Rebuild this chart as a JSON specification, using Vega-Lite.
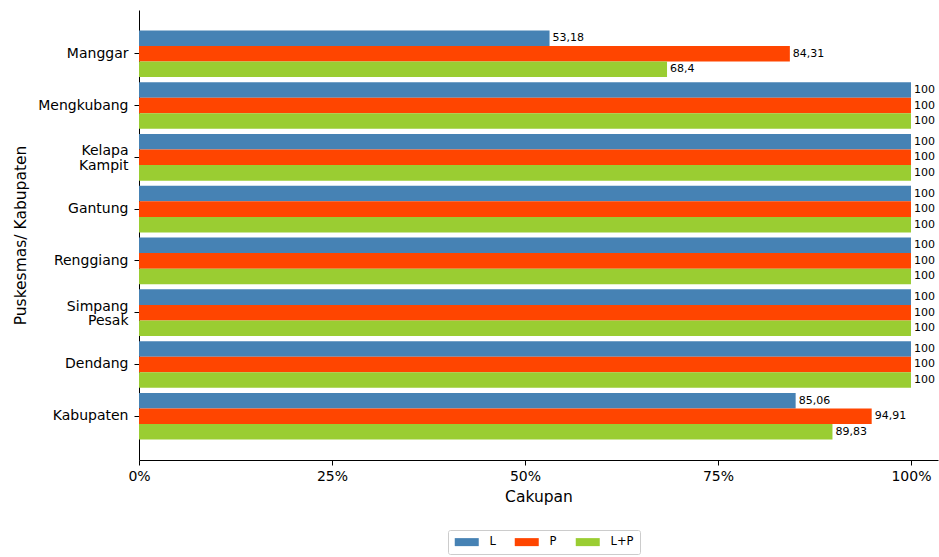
{
  "$schema": "https://vega.github.io/schema/vega-lite/v6.json",
  "width": 799,
  "height": 450,
  "autosize": {"type": "none"},
  "padding": {"left": 139, "top": 10, "right": 1, "bottom": 97},
  "background": "white",
  "data": {
    "values": [
      {"puskesmas": "Manggar", "seri": "L", "nilai": 53.18, "label": "53,18"},
      {"puskesmas": "Manggar", "seri": "P", "nilai": 84.31, "label": "84,31"},
      {"puskesmas": "Manggar", "seri": "L+P", "nilai": 68.4, "label": "68,4"},
      {"puskesmas": "Mengkubang", "seri": "L", "nilai": 100, "label": "100"},
      {"puskesmas": "Mengkubang", "seri": "P", "nilai": 100, "label": "100"},
      {"puskesmas": "Mengkubang", "seri": "L+P", "nilai": 100, "label": "100"},
      {"puskesmas": "Kelapa Kampit", "seri": "L", "nilai": 100, "label": "100"},
      {"puskesmas": "Kelapa Kampit", "seri": "P", "nilai": 100, "label": "100"},
      {"puskesmas": "Kelapa Kampit", "seri": "L+P", "nilai": 100, "label": "100"},
      {"puskesmas": "Gantung", "seri": "L", "nilai": 100, "label": "100"},
      {"puskesmas": "Gantung", "seri": "P", "nilai": 100, "label": "100"},
      {"puskesmas": "Gantung", "seri": "L+P", "nilai": 100, "label": "100"},
      {"puskesmas": "Renggiang", "seri": "L", "nilai": 100, "label": "100"},
      {"puskesmas": "Renggiang", "seri": "P", "nilai": 100, "label": "100"},
      {"puskesmas": "Renggiang", "seri": "L+P", "nilai": 100, "label": "100"},
      {"puskesmas": "Simpang Pesak", "seri": "L", "nilai": 100, "label": "100"},
      {"puskesmas": "Simpang Pesak", "seri": "P", "nilai": 100, "label": "100"},
      {"puskesmas": "Simpang Pesak", "seri": "L+P", "nilai": 100, "label": "100"},
      {"puskesmas": "Dendang", "seri": "L", "nilai": 100, "label": "100"},
      {"puskesmas": "Dendang", "seri": "P", "nilai": 100, "label": "100"},
      {"puskesmas": "Dendang", "seri": "L+P", "nilai": 100, "label": "100"},
      {"puskesmas": "Kabupaten", "seri": "L", "nilai": 85.06, "label": "85,06"},
      {"puskesmas": "Kabupaten", "seri": "P", "nilai": 94.91, "label": "94,91"},
      {"puskesmas": "Kabupaten", "seri": "L+P", "nilai": 89.83, "label": "89,83"}
    ]
  },
  "encoding": {
    "y": {
      "field": "puskesmas",
      "type": "nominal",
      "sort": ["Manggar", "Mengkubang", "Kelapa Kampit", "Gantung", "Renggiang", "Simpang Pesak", "Dendang", "Kabupaten"],
      "scale": {"paddingInner": 0.1, "paddingOuter": 0.395},
      "axis": {
        "title": "Puskesmas/ Kabupaten",
        "labelExpr": "split(datum.label, ' ')",
        "labelLineHeight": 14.5,
        "labelOffset": {"condition": {"test": "indexof(datum.value, ' ') >= 0", "value": -6}, "value": 0},
        "labelPadding": 6,
        "titlePadding": 9
      }
    },
    "yOffset": {
      "field": "seri",
      "type": "nominal",
      "sort": ["L", "P", "L+P"],
      "scale": {"paddingInner": 0, "paddingOuter": 0}
    },
    "x": {
      "field": "nilai",
      "type": "quantitative",
      "scale": {"domain": [0, 103.5], "nice": false, "zero": true},
      "axis": {
        "title": "Cakupan",
        "values": [0, 25, 50, 75, 100],
        "labelExpr": "datum.value + '%'",
        "labelFlush": false,
        "titlePadding": 6
      }
    }
  },
  "layer": [
    {
      "mark": {"type": "bar"},
      "encoding": {
        "color": {
          "field": "seri",
          "type": "nominal",
          "sort": ["L", "P", "L+P"],
          "scale": {"domain": ["L", "P", "L+P"], "range": ["#4682b4", "#ff4500", "#9acd32"]},
          "legend": {
            "title": null,
            "orient": "none",
            "direction": "horizontal",
            "legendX": 309,
            "legendY": 520,
            "symbolType": "M-1,-0.8H3.8V0.8H-1Z",
            "symbolSize": 100,
            "symbolStrokeWidth": 0,
            "labelOffset": 24,
            "columnPadding": 18,
            "labelFontSize": 11.5,
            "labelFont": "DejaVu Sans",
            "strokeColor": "#cccccc",
            "fillColor": "white",
            "padding": 6,
            "cornerRadius": 2
          }
        }
      }
    },
    {
      "mark": {"type": "text", "align": "left", "baseline": "middle", "dx": 3, "fontSize": 11, "font": "DejaVu Sans", "color": "black"},
      "encoding": {"text": {"field": "label"}}
    }
  ],
  "config": {
    "view": {"stroke": null},
    "font": "DejaVu Sans",
    "axis": {
      "grid": false,
      "domainColor": "black",
      "tickColor": "black",
      "labelColor": "black",
      "titleColor": "black",
      "labelFont": "DejaVu Sans",
      "titleFont": "DejaVu Sans",
      "labelFontSize": 14,
      "titleFontSize": 15.5,
      "titleFontWeight": "normal",
      "tickSize": 5,
      "labelPadding": 4
    }
  }
}
